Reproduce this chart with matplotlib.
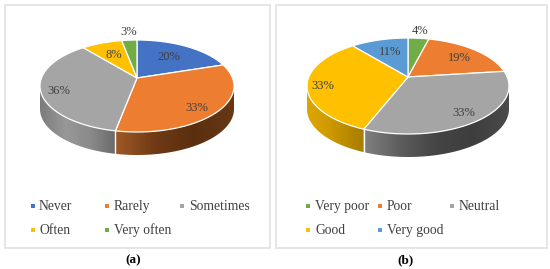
import numpy as np
import matplotlib
matplotlib.use('Agg')
import matplotlib.pyplot as plt
from matplotlib.colors import LinearSegmentedColormap
from matplotlib.patches import Polygon, Rectangle

plt.rcParams['font.family'] = ['Liberation Serif', 'DejaVu Serif']

# Data
labels_a = ['Never', 'Rarely', 'Sometimes', 'Often', 'Very often']
values_a = [20, 33, 36, 8, 3]
labels_b = ['Very poor', 'Poor', 'Neutral', 'Good', 'Very good']
values_b = [4, 19, 33, 33, 11]

BLUE = '#4472c4'
ORANGE = '#ed7d31'
GRAY = '#a5a5a5'
YELLOW = '#ffc000'
GREEN = '#70ad47'
LIGHTBLUE = '#5b9bd5'
TEXT = '#404040'

colors_a = [BLUE, ORANGE, GRAY, YELLOW, GREEN]
colors_b = [GREEN, ORANGE, GRAY, YELLOW, LIGHTBLUE]

# side wall gradients, left to right
walls_a = {1: ['#a05a26', '#6f3a15', '#5a2f10', '#683814'],
           2: ['#7c7c7c', '#989898', '#8a8a8a', '#6a6a6a']}
walls_b = {2: ['#808080', '#5c5c5c', '#444444', '#3e3e3e', '#4a4a4a'],
           3: ['#dca600', '#d09c00', '#bd8c00', '#a87c00']}


def rim_point(t, geo):
    # circle seen in perspective, its centre lands on the apex
    cx, apex, k, a, r = geo
    d = 1 - k * np.cos(t)
    return cx + r * np.sin(t) / d, apex - a * np.cos(t) / d


def pie_geometry(cx, rx, top, apex, bottom):
    up, down = apex - top, bottom - apex
    k = (up - down) / (up + down)
    return cx, apex, k, up * (1 - k), rx * np.sqrt(1 - k ** 2)


def draw_pie(ax, values, colors, walls, geo, depth):
    edges = np.radians(np.cumsum([0] + values) * 3.6)
    side = np.arccos(geo[2])
    # side walls first
    for i, (t0, t1) in enumerate(zip(edges[:-1], edges[1:])):
        lo, hi = max(t0, side), min(t1, 2 * np.pi - side)
        if lo >= hi:
            continue
        t = np.linspace(lo, hi, 80)
        x, y = rim_point(t, geo)
        pts = np.r_[np.c_[x, y], np.c_[x[::-1], y[::-1] + depth]]
        poly = Polygon(pts, closed=True, fc='none', ec='none')
        ax.add_patch(poly)
        cmap = LinearSegmentedColormap.from_list('wall', walls[i])
        grad = np.linspace(0, 1, 128).reshape(1, -1)
        im = ax.imshow(grad, cmap=cmap, aspect='auto', zorder=2,
                       extent=[x.min(), x.max(), y.max() + depth, y.min()])
        im.set_clip_path(poly)
        # white seam between two walls
        if lo == t0:
            px, py = rim_point(t0, geo)
            ax.plot([px, px], [py, py + depth], color='white', lw=1, zorder=3)
    # top faces
    for i, (t0, t1) in enumerate(zip(edges[:-1], edges[1:])):
        t = np.linspace(t0, t1, 100)
        x, y = rim_point(t, geo)
        pts = np.r_[[[geo[0], geo[1]]], np.c_[x, y]]
        ax.add_patch(Polygon(pts, closed=True, fc=colors[i], ec='white', lw=0.9, zorder=4))


def draw_legend(ax, labels, colors, marks, text_x, rows):
    for lab, col, mx, tx, ry in zip(labels, colors, marks, text_x, rows):
        ax.add_patch(Rectangle((mx - 2, ry - 2), 4, 4, fc=col, ec='none'))
        ax.text(tx, ry + 4, lab, fontsize=9.8, color=TEXT, va='baseline', ha='left')


fig = plt.figure(figsize=(5.5, 2.69), dpi=100)
ax = fig.add_axes([0, 0, 1, 1])

# panel frames
ax.add_patch(Rectangle((4.5, 4.5), 265, 243, fc='white', ec='#e2e2e2', lw=1.2))
ax.add_patch(Rectangle((275.5, 4.5), 271, 243, fc='white', ec='#e2e2e2', lw=1.2))

draw_pie(ax, values_a, colors_a, walls_a, pie_geometry(137, 97, 40, 78, 132), 23)
draw_pie(ax, values_b, colors_b, walls_b, pie_geometry(408, 101, 38, 77, 134), 23)

pos_a = [(169, 57), (197, 108), (59, 91), (114, 55), (129, 32)]
for v, (x, y) in zip(values_a, pos_a):
    ax.text(x, y, '{}%'.format(v), fontsize=9, color=TEXT, ha='center', va='center', zorder=5)
pos_b = [(420, 31), (459, 58), (464, 113), (323, 86), (390, 52)]
for v, (x, y) in zip(values_b, pos_b):
    ax.text(x, y, '{}%'.format(v), fontsize=9, color=TEXT, ha='center', va='center', zorder=5)

draw_legend(ax, labels_a, colors_a, [33, 107, 182, 33, 107], [39, 114, 189, 39, 114], [206, 206, 206, 230, 230])
draw_legend(ax, labels_b, colors_b, [308, 380, 452, 308, 380], [315, 387, 459, 315, 387], [206, 206, 206, 230, 230])

ax.text(133, 260, '(a)', fontsize=9.5, ha='center', va='center', color='black', fontweight='bold')
ax.text(405, 260, '(b)', fontsize=9.5, ha='center', va='center', color='black', fontweight='bold')

ax.set_xlim(0, 550)
ax.set_ylim(269, 0)
ax.axis('off')
fig.savefig('out.png', dpi=100)
